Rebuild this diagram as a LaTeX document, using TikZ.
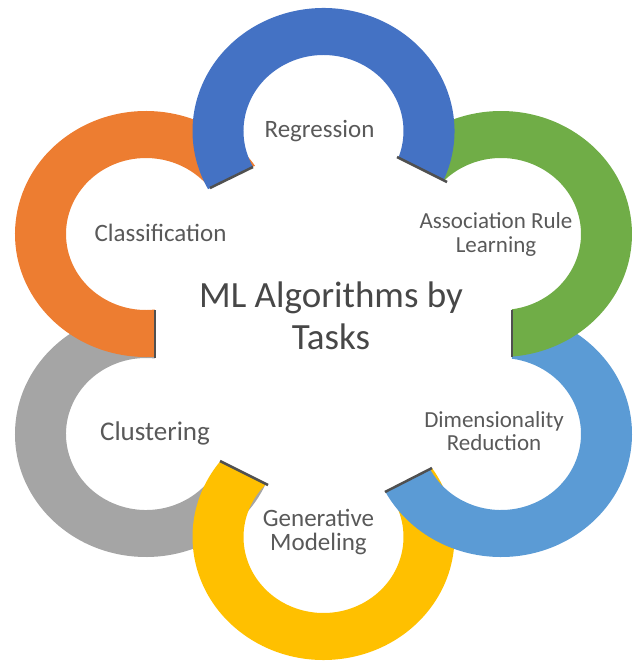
\documentclass[tikz,border=0pt]{standalone}
\usepackage{fontspec}
\setmainfont{Carlito}
\usetikzlibrary{positioning}

\definecolor{ringblue}{HTML}{4472C4}
\definecolor{ringorange}{HTML}{ED7D31}
\definecolor{ringgray}{HTML}{A5A5A5}
\definecolor{ringyellow}{HTML}{FFC000}
\definecolor{ringlight}{HTML}{5B9BD5}
\definecolor{ringgreen}{HTML}{70AD47}
\definecolor{labelgray}{HTML}{595959}
\definecolor{cutgray}{HTML}{505050}

% ring piece: centre, colour, outer start, outer end, inner start, inner end
\newcommand{\ringpart}[6]{%
  \fill[#2] ([shift={(#1)}]#3:131 and 123)
    arc[start angle=#3, end angle=#4, x radius=131, y radius=123]
    -- ([shift={(#1)}]#5:80 and 76)
    arc[start angle=#5, end angle=#6, x radius=80, y radius=76] -- cycle;}

\begin{document}
\begin{tikzpicture}[x=1pt,y=1pt]
  \tikzset{every node/.style={text=labelgray, inner sep=0pt, align=center},
           label/.style={font=\fontsize{25}{24}\selectfont},
           title/.style={font=\fontsize{37}{42}\selectfont, text=labelgray!80!black},
           cut/.style={draw=cutgray, line width=2.5pt}}
  \useasboundingbox (0,0) rectangle (634,-662);

  \coordinate (c_reg) at (323.5,-131);
  \coordinate (c_asr) at (501,-234);
  \coordinate (c_dim) at (501,-434);
  \coordinate (c_gen) at (323.5,-537);
  \coordinate (c_clu) at (146,-434);
  \coordinate (c_cla) at (146,-234);

  \ringpart{c_clu}{ringgray}{86}{336}{339}{83.6}
  \ringpart{c_gen}{ringyellow}{142}{394.1}{397.6}{135.4}
  \ringpart{c_dim}{ringlight}{85.2}{-152}{-152.6}{82.2}
  \ringpart{c_asr}{ringgreen}{141.8}{-85.2}{-82.2}{134.6}
  \ringpart{c_cla}{ringorange}{33.7}{274}{276.4}{37.1}
  \ringpart{c_reg}{ringblue}{-23.7}{208.2}{208.3}{-20.4}

  % where two rings meet
  \coordinate (j1a) at (397,-157); \coordinate (j1b) at (447,-182);
  \coordinate (j2a) at (512,-310); \coordinate (j2b) at (512,-357);
  \coordinate (j3a) at (432,-468); \coordinate (j3b) at (385,-492);
  \coordinate (j4a) at (268,-485); \coordinate (j4b) at (220,-461);
  \coordinate (j5a) at (155,-310); \coordinate (j5b) at (155,-358);
  \coordinate (j6a) at (253,-167); \coordinate (j6b) at (210,-188);
  \draw[cut] (j1a) -- (j1b);
  \draw[cut] (j2a) -- (j2b);
  \draw[cut] (j3a) -- (j3b);
  \draw[cut] (j4a) -- (j4b);
  \draw[cut] (j5a) -- (j5b);
  \draw[cut] (j6a) -- (j6b);

  \node[title] (tasks) at (331,-316) {ML Algorithms by\\Tasks};
  \node[label, anchor=base] (reg) at (319.5,-137) {Regression};
  \node[label, font=\fontsize{23}{24}\selectfont] (asr) at (496,-234) {Association Rule\\Learning};
  \node[label, font=\fontsize{23}{23}\selectfont] (dim) at (494,-431) {Dimensionality\\Reduction};
  \node[label] (gen) at (318.5,-531.5) {Generative\\Modeling};
  \node[label, anchor=base, font=\fontsize{27}{24}\selectfont] (clu) at (155,-440) {Clustering};
  \node[label, anchor=base] (cla) at (160.5,-241.7) {Classification};
\end{tikzpicture}
\end{document}
